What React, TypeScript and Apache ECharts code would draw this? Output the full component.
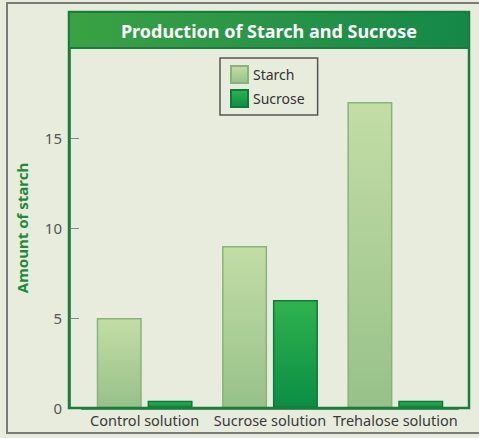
import React, { useEffect, useRef } from "react";
import * as echarts from "echarts";

const categories = ["Control solution", "Sucrose solution", "Trehalose solution"];
const starchValues = [5, 9, 17];
const sucroseValues = [0.4, 6, 0.4];
const yTicks = [0, 5, 10, 15];
const titleText = "Production of Starch and Sucrose";
const yAxisName = "Amount of starch";

export default function App() {
  const ref = useRef<HTMLDivElement>(null);
  useEffect(() => {
    document.body.style.margin = "0";
    if (!ref.current) return;
    const chart = echarts.init(ref.current, undefined, { renderer: "svg" });
    const font = "'Noto Sans', 'Open Sans', sans-serif";
    chart.setOption({
      animation: false,
      backgroundColor: "#e7ecdd",
      textStyle: { fontFamily: font },
      grid: { left: 82, right: 21, top: 48, bottom: 30 },
      legend: {
        orient: "vertical",
        left: 220,
        top: 58,
        borderColor: "#555",
        borderWidth: 1.5,
        padding: [7, 13, 7, 10],
        itemWidth: 17,
        itemHeight: 17,
        itemGap: 5,
        icon: "rect",
        textStyle: { fontSize: 14, color: "#333", fontFamily: font },
        data: ["Starch", "Sucrose"],
      },
      xAxis: {
        type: "category",
        data: categories,
        axisLine: { lineStyle: { color: "#1b7d3d", width: 2.5 } },
        axisTick: { show: false },
        axisLabel: { color: "#3a3a3a", fontSize: 14.5, margin: 4, interval: 0, fontFamily: font },
      },
      yAxis: {
        type: "value",
        min: 0,
        max: 20,
        interval: 5,
        offset: 13,
        name: yAxisName,
        nameLocation: "middle",
        nameGap: 40,
        nameTextStyle: { color: "#1d8a3c", fontWeight: "bold", fontSize: 15, fontFamily: font },
        axisLine: { show: true, lineStyle: { color: "#1b7d3d", width: 2.5 } },
        axisTick: { show: true, inside: true, length: 10, lineStyle: { color: "#888" }, customValues: yTicks },
        axisLabel: { color: "#555", fontSize: 15, margin: 7, customValues: yTicks, fontFamily: font },
        splitLine: { show: false },
      },
      series: [
        {
          name: "Starch",
          type: "bar",
          data: starchValues,
          barWidth: 45,
          barGap: "13%",
          itemStyle: {
            color: new echarts.graphic.LinearGradient(0, 0, 0, 1, [
              { offset: 0, color: "#c3dda6" },
              { offset: 1, color: "#97c189" },
            ]),
            borderColor: "#88b47c",
            borderWidth: 1.5,
          },
        },
        {
          name: "Sucrose",
          type: "bar",
          data: sucroseValues,
          barWidth: 45,
          itemStyle: {
            color: new echarts.graphic.LinearGradient(0, 0, 0, 1, [
              { offset: 0, color: "#2fb24d" },
              { offset: 1, color: "#0a8e45" },
            ]),
            borderColor: "#0b7a3c",
            borderWidth: 1.5,
          },
        },
      ],
      graphic: [
        {
          type: "rect",
          z: 100,
          shape: { x: 7, y: 3, width: 480, height: 430 },
          style: { fill: "none", stroke: "#7a7a7a", lineWidth: 2 },
        },
        {
          type: "rect",
          z: 100,
          shape: { x: 69, y: 12, width: 400, height: 396 },
          style: { fill: "none", stroke: "#1b7d3d", lineWidth: 2.5 },
        },
        {
          type: "rect",
          z: 101,
          shape: { x: 69, y: 12, width: 400, height: 36 },
          style: {
            fill: new echarts.graphic.LinearGradient(0, 0, 1, 0, [
              { offset: 0, color: "#3aa244" },
              { offset: 1, color: "#138848" },
            ]),
            stroke: "#1b7d3d",
            lineWidth: 2,
          },
        },
        {
          type: "text",
          z: 102,
          x: 269,
          y: 31,
          style: {
            text: titleText,
            fill: "#ffffff",
            font: `bold 18px ${font}`,
            textAlign: "center",
            textVerticalAlign: "middle",
          },
        },
      ],
    });
    return () => chart.dispose();
  }, []);
  return <div ref={ref} style={{ width: 479, height: 438 }} />;
}
